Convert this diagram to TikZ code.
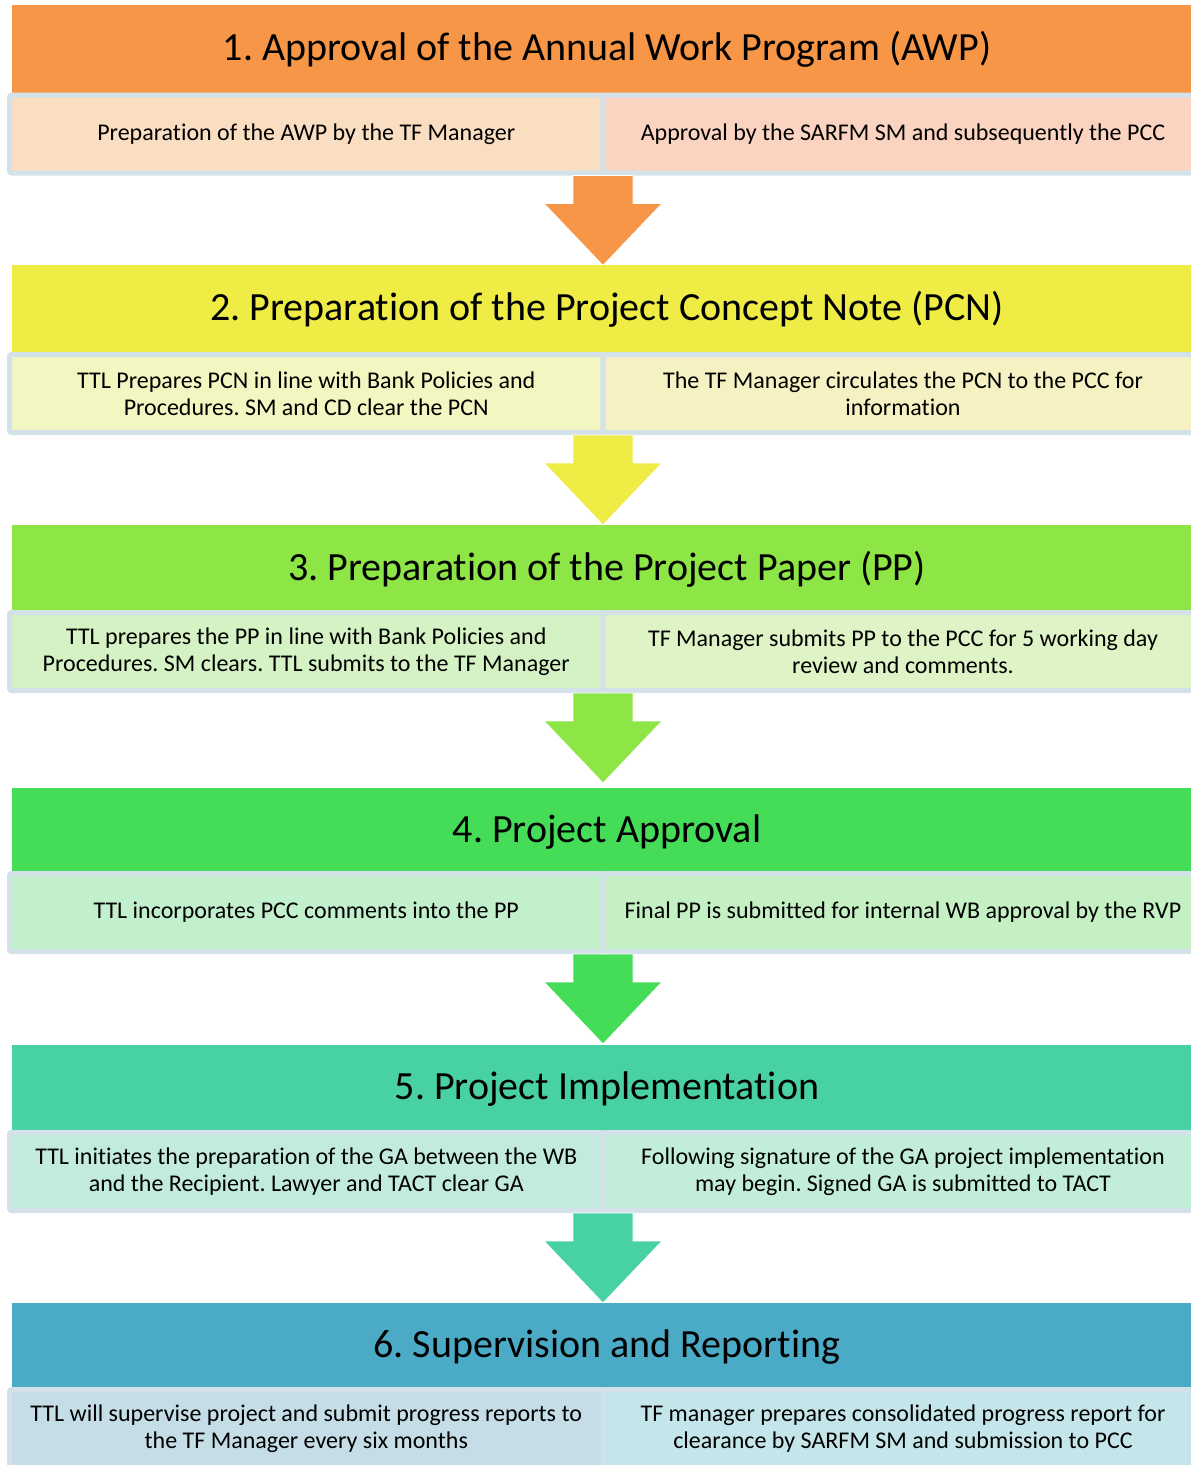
\documentclass[tikz,border=0pt]{standalone}
\usepackage{fontspec}
\setmainfont{Carlito}[Ligatures=NoCommon]

\definecolor{edge}{HTML}{D3E2E8}
\definecolor{head1}{HTML}{F79646}
\definecolor{head2}{HTML}{EEEC45}
\definecolor{head3}{HTML}{8EE646}
\definecolor{head4}{HTML}{45DC58}
\definecolor{head5}{HTML}{48D2A4}
\definecolor{head6}{HTML}{4BABC6}
\definecolor{left1}{HTML}{F9DEC1}
\definecolor{right1}{HTML}{FAD4C1}
\definecolor{left2}{HTML}{F2F6C0}
\definecolor{right2}{HTML}{F5F1C3}
\definecolor{left3}{HTML}{D4F2C4}
\definecolor{right3}{HTML}{DEF3C6}
\definecolor{left4}{HTML}{C2EFCC}
\definecolor{right4}{HTML}{C4F0C4}
\definecolor{left5}{HTML}{C2EBDE}
\definecolor{right5}{HTML}{C2EDD9}
\definecolor{left6}{HTML}{C4DDE6}
\definecolor{right6}{HTML}{C4E6EA}

\begin{document}
\frenchspacing
\begin{tikzpicture} [x=1pt, y=-1pt,
  head/.style={anchor=north west, minimum width=1190pt, minimum height=88pt,
    inner sep=0pt, outer sep=0pt, font=\fontsize{40}{48}\selectfont},
  box/.style={anchor=north west, draw=edge, line width=5pt, rounded corners=2pt,
    minimum height=78pt, inner sep=0pt, outer sep=0pt, align=center,
    font=\fontsize{24}{27}\selectfont},
  lbox/.style={box, minimum width=593.5pt},
  rbox/.style={box, minimum width=600pt},
  down/.style={draw=white, line width=0.8pt}]
\useasboundingbox (0,0) rectangle (1191,1465);

% stage 1
\node [head, fill=head1] (h1) at (12,5) {1. Approval of the Annual Work Program (AWP)};
\node [lbox, fill=left1] (l1) at (9.5,95) {Preparation of the AWP by the TF Manager};
\node [rbox, fill=right1] (r1) at (603,95) {Approval by the SARFM SM and subsequently the PCC};
\coordinate (a1) at ([yshift=-2.5pt]l1.south east);
\filldraw [down, fill=head1] (a1) ++(-30,0) -- ++(60,0) -- ++(0,28) -- ++(29,0)
  -- ++(-59,62) -- ++(-59,-62) -- ++(29,0) -- cycle;

% stage 2
\node [head, fill=head2] (h2) at (12,265) {2. Preparation of the Project Concept Note (PCN)};
\node [lbox, fill=left2] (l2) at (9.5,354.5) {TTL Prepares PCN in line with Bank Policies and\\ Procedures. SM and CD clear the PCN};
\node [rbox, fill=right2] (r2) at (603,354.5) {The TF Manager circulates the PCN to the PCC for\\ information};
\coordinate (a2) at ([yshift=-2.5pt]l2.south east);
\filldraw [down, fill=head2] (a2) ++(-30,0) -- ++(60,0) -- ++(0,28) -- ++(29,0)
  -- ++(-59,62) -- ++(-59,-62) -- ++(29,0) -- cycle;

% stage 3
\node [head, fill=head3] (h3) at (12,525) {3. Preparation of the Project Paper (PP)};
\node [lbox, fill=left3] (l3) at (9.5,612.5) {TTL prepares the PP in line with Bank Policies and\\ Procedures. SM clears. TTL submits to the TF Manager};
\node [rbox, fill=right3] (r3) at (603,612.5) {TF Manager submits PP to the PCC for 5 working day\\ review and comments.};
\coordinate (a3) at ([yshift=-2.5pt]l3.south east);
\filldraw [down, fill=head3] (a3) ++(-30,0) -- ++(60,0) -- ++(0,28) -- ++(29,0)
  -- ++(-59,62) -- ++(-59,-62) -- ++(29,0) -- cycle;

% stage 4
\node [head, fill=head4] (h4) at (12,788) {4. Project Approval};
\node [lbox, fill=left4] (l4) at (9.5,873.5) {TTL incorporates PCC comments into the PP};
\node [rbox, fill=right4] (r4) at (603,873.5) {Final PP is submitted for internal WB approval by the RVP};
\coordinate (a4) at ([yshift=-2.5pt]l4.south east);
\filldraw [down, fill=head4] (a4) ++(-30,0) -- ++(60,0) -- ++(0,28) -- ++(29,0)
  -- ++(-59,62) -- ++(-59,-62) -- ++(29,0) -- cycle;

% stage 5
\node [head, fill=head5] (h5) at (12,1045) {5. Project Implementation};
\node [lbox, fill=left5] (l5) at (9.5,1132.5) {TTL initiates the preparation of the GA between the WB\\ and the Recipient. Lawyer and TACT clear GA};
\node [rbox, fill=right5] (r5) at (603,1132.5) {Following signature of the GA project implementation\\ may begin. Signed GA is submitted to TACT};
\coordinate (a5) at ([yshift=-2.5pt]l5.south east);
\filldraw [down, fill=head5] (a5) ++(-30,0) -- ++(60,0) -- ++(0,28) -- ++(29,0)
  -- ++(-59,62) -- ++(-59,-62) -- ++(29,0) -- cycle;

% stage 6
\node [head, fill=head6] (h6) at (12,1303) {6. Supervision and Reporting};
\node [lbox, fill=left6] (l6) at (9.5,1389.5) {TTL will supervise project and submit progress reports to\\ the TF Manager every six months};
\node [rbox, fill=right6] (r6) at (603,1389.5) {TF manager prepares consolidated progress report for\\ clearance by SARFM SM and submission to PCC};
\end{tikzpicture}
\end{document}
